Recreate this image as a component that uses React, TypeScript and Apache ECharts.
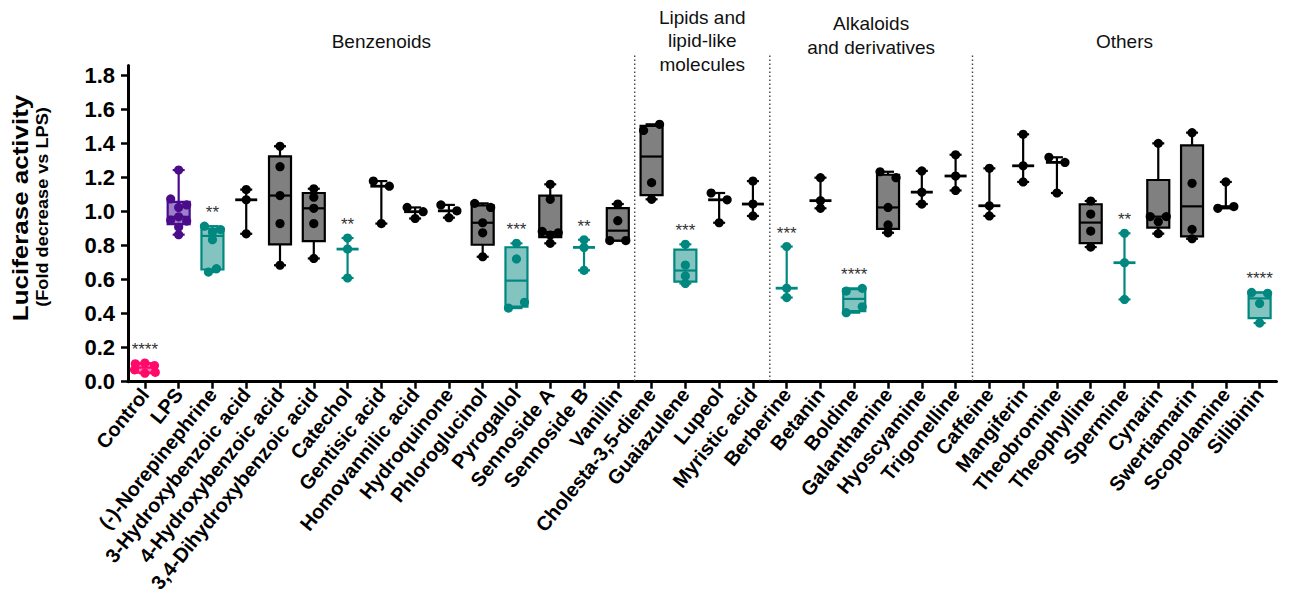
import React, { useEffect, useRef } from "react";
import * as echarts from "echarts";

// ---------------- DATA ----------------
const categories: string[] = [
  "Control", "LPS", "(-)-Norepinephrine", "3-Hydroxybenzoic acid", "4-Hydroxybenzoic acid",
  "3,4-Dihydroxybenzoic acid", "Catechol", "Gentisic acid", "Homovannilic acid", "Hydroquinone",
  "Phloroglucinol", "Pyrogallol", "Sennoside A", "Sennoside B", "Vanillin",
  "Cholesta-3,5-diene", "Guaiazulene", "Lupeol", "Myristic acid",
  "Berberine", "Betanin", "Boldine", "Galanthamine", "Hyoscyamine", "Trigonelline",
  "Caffeine", "Mangiferin", "Theobromine", "Theophylline", "Spermine", "Cynarin",
  "Swertiamarin", "Scopolamine", "Silibinin",
];

// replicate values (fold vs LPS) per compound
const replicateValues: number[][] = [
  [0.11, 0.105, 0.095, 0.07, 0.055, 0.05],
  [1.245, 1.075, 1.04, 1.025, 0.97, 0.95, 0.945, 0.91, 0.865],
  [0.915, 0.895, 0.88, 0.835, 0.665, 0.645],
  [1.13, 1.07, 0.87],
  [1.385, 1.265, 1.095, 0.93, 0.685],
  [1.135, 1.085, 1.02, 0.93, 0.725],
  [0.845, 0.78, 0.61],
  [1.18, 1.15, 0.93],
  [1.025, 1.0, 0.96],
  [1.04, 1.005, 0.965],
  [1.049, 1.025, 0.935, 0.876, 0.735],
  [0.814, 0.722, 0.467, 0.433],
  [1.161, 1.073, 0.884, 0.876, 0.863, 0.814],
  [0.835, 0.79, 0.655],
  [1.045, 0.947, 0.83, 0.83],
  [1.514, 1.478, 1.171, 1.073],
  [0.808, 0.686, 0.622, 0.578],
  [1.11, 1.07, 0.935],
  [1.18, 1.045, 0.975],
  [0.795, 0.55, 0.495],
  [1.2, 1.065, 1.02],
  [0.549, 0.533, 0.441, 0.406],
  [1.235, 1.2, 1.025, 0.922, 0.876],
  [1.24, 1.115, 1.045],
  [1.335, 1.21, 1.125],
  [1.255, 1.035, 0.975],
  [1.455, 1.27, 1.175],
  [1.32, 1.29, 1.11],
  [1.063, 0.986, 0.886, 0.792],
  [0.873, 0.7, 0.484],
  [1.402, 0.971, 0.971, 0.941, 0.871],
  [1.465, 1.167, 0.896, 0.841],
  [1.175, 1.03, 1.02],
  [0.525, 0.52, 0.46, 0.345],
];

// horizontal spread of each replicate (-1 left, 0 centre, 1 right)
const replicateSpread: number[][] = [
  [0, -1.2, 1.2, -1.3, 1.3, 0],
  [0, -1, 1, 0, 0, -1, 1, 0, 0],
  [-1, 1, 0, 0, 0.5, -0.5],
  [0, 0, 0],
  [0, 0, 0, 0, 0],
  [0, 0, 0, 0, 0],
  [0, 0, 0],
  [-1, 1, 0],
  [-1, 1, 0],
  [-1, 1, 0],
  [-1, 1, 0, 0, 0],
  [0, 0, 1, -1],
  [0, 0, -1, 1, 0, 0],
  [0, 0, 0],
  [0, 0, -1, 1],
  [1, -1, 0, 0],
  [0, 0, 0, 0],
  [-1, 1, 0],
  [0, 0, 0],
  [0, 0, 0],
  [0, 0, 0],
  [1, -1, 1, -1],
  [-1, 1, 0, 0, 0],
  [0, 0, 0],
  [0, 0, 0],
  [0, 0, 0],
  [0, 0, 0],
  [-1, 1, 0],
  [0, 0, 0, 0],
  [0, 0, 0],
  [0, -1, 1, 0, 0],
  [0, 0, 0, 0],
  [0, 1, -1],
  [-1, 1, 0, 0],
];

// colour class per compound
const colourClass: string[] = [
  "control", "lps", "hit", "ns", "ns", "ns", "hit", "ns", "ns", "ns", "ns", "hit", "ns", "hit", "ns",
  "ns", "hit", "ns", "ns",
  "hit", "ns", "hit", "ns", "ns", "ns",
  "ns", "ns", "ns", "ns", "hit", "ns", "ns", "ns", "hit",
];

// significance markers
const significance: string[] = [
  "****", "", "**", "", "", "", "**", "", "", "", "", "***", "", "**", "",
  "", "***", "", "",
  "***", "", "****", "", "", "",
  "", "", "", "", "**", "", "", "", "****",
];

const groupNames: string[] = ["Benzenoids", "Lipids and\nlipid-like\nmolecules", "Alkaloids\nand derivatives", "Others"];
const groupStart: number[] = [0, 15, 19, 25];
const groupEnd: number[] = [14, 18, 24, 33];

const yTickValues: number[] = [0, 0.2, 0.4, 0.6, 0.8, 1.0, 1.2, 1.4, 1.6, 1.8];

// ---------------- STYLE ----------------
const FONT = "Arial, 'Liberation Sans', Helvetica, sans-serif";
const palette: Record<string, { stroke: string; fill: string; point: string }> = {
  control: { stroke: "#FF0A6A", fill: "#FF7FAF", point: "#FF0A6A" },
  lps: { stroke: "#4B0C8C", fill: "#9C80C8", point: "#4B0C8C" },
  hit: { stroke: "#008780", fill: "#84C4C0", point: "#008780" },
  ns: { stroke: "#000000", fill: "#808080", point: "#000000" },
};
const headerCenterY: number[] = [41, 40.5, 35.5, 41];

function boxStats(arr: number[]) {
  const s = [...arr].sort((a, b) => a - b);
  const n = s.length;
  const q = (p: number) => {
    const pos = (n + 1) * p;
    if (pos <= 1) return s[0];
    if (pos >= n) return s[n - 1];
    const lo = Math.floor(pos);
    return s[lo - 1] + (pos - lo) * (s[lo] - s[lo - 1]);
  };
  return { min: s[0], q1: q(0.25), med: q(0.5), q3: q(0.75), max: s[n - 1] };
}

export default function App() {
  const ref = useRef<HTMLDivElement>(null);
  useEffect(() => {
    if (!ref.current) return;
    const chart = echarts.init(ref.current, undefined, { renderer: "svg" });
    const yMax = 1.86;

    const boxRender = (params: any, api: any) => {
      const i = api.value(0) as number;
      const vals = replicateValues[i];
      const st = boxStats(vals);
      const cx = api.coord([i, 0])[0];
      const Y = (v: number) => api.coord([i, v])[1];
      const c = palette[colourClass[i]];
      const hw = 11;
      const cap = 6;
      const children: any[] = [];
      const ln = (x1: number, y1: number, x2: number, y2: number, w = 2.2) => ({
        type: "line",
        shape: { x1, y1, x2, y2 },
        style: { stroke: c.stroke, lineWidth: w },
      });
      if (vals.length >= 4) {
        children.push(ln(cx, Y(st.max), cx, Y(st.q3)));
        children.push(ln(cx, Y(st.q1), cx, Y(st.min)));
        children.push(ln(cx - cap, Y(st.max), cx + cap, Y(st.max)));
        children.push(ln(cx - cap, Y(st.min), cx + cap, Y(st.min)));
        children.push({
          type: "rect",
          shape: { x: cx - hw, y: Y(st.q3), width: hw * 2, height: Y(st.q1) - Y(st.q3) },
          style: { fill: c.fill, stroke: c.stroke, lineWidth: 2.2 },
        });
        children.push(ln(cx - hw, Y(st.med), cx + hw, Y(st.med)));
      } else {
        children.push(ln(cx, Y(st.max), cx, Y(st.min)));
        children.push(ln(cx - cap, Y(st.max), cx + cap, Y(st.max)));
        children.push(ln(cx - cap, Y(st.min), cx + cap, Y(st.min)));
        children.push(ln(cx - hw, Y(st.med), cx + hw, Y(st.med), 2.8));
      }
      vals.forEach((v, k) => {
        children.push({
          type: "circle",
          shape: { cx: cx + replicateSpread[i][k] * 8, cy: Y(v), r: 4.6 },
          style: { fill: c.point },
        });
      });
      if (significance[i]) {
        children.push({
          type: "text",
          style: {
            text: significance[i],
            x: cx,
            y: Y(st.max) - 5,
            align: "center",
            verticalAlign: "bottom",
            fontSize: 17,
            fontFamily: FONT,
            fill: "#333333",
          },
        });
      }
      return { type: "group", children };
    };

    const groupRender = (params: any, api: any) => {
      const g = params.dataIndex;
      const s = groupStart[g];
      const e = groupEnd[g];
      const x0 = api.coord([s, 0])[0];
      const x1 = api.coord([e, 0])[0];
      const children: any[] = [
        {
          type: "text",
          style: {
            text: groupNames[g],
            x: (x0 + x1) / 2,
            y: headerCenterY[g],
            align: "center",
            verticalAlign: "middle",
            fontSize: 19,
            lineHeight: 23.5,
            fontFamily: FONT,
            fill: "#111111",
          },
        },
      ];
      if (g > 0) {
        const prev = api.coord([s - 1, 0])[0];
        const xs = (prev + x0) / 2;
        const yBottom = api.coord([s, 0])[1];
        const yTop = api.coord([s, yMax])[1] - 10;
        children.push({
          type: "line",
          shape: { x1: xs, y1: yTop, x2: xs, y2: yBottom },
          style: { stroke: "#444444", lineWidth: 1.4, lineDash: [1.4, 2.6] },
        });
      }
      return { type: "group", children };
    };

    chart.setOption({
      animation: false,
      backgroundColor: "#ffffff",
      grid: {
        left: 128,
        right: 19.5,
        top: 381.7 - yMax * 170,
        bottom: 596 - 381.7,
        containLabel: false,
        outerBoundsMode: "none",
      },
      xAxis: {
        type: "category",
        data: categories,
        boundaryGap: true,
        axisLine: { show: true, lineStyle: { color: "#000", width: 3 } },
        axisTick: { show: true, alignWithLabel: true, length: 7, lineStyle: { color: "#000", width: 2.5 } },
        axisLabel: {
          interval: 0,
          rotate: 51,
          margin: 9,
          color: "#000",
          fontSize: 20,
          fontWeight: "bold",
          fontFamily: FONT,
        },
        splitLine: { show: false },
      },
      yAxis: {
        type: "value",
        min: 0,
        max: yMax,
        axisLine: { show: true, lineStyle: { color: "#000", width: 3 } },
        axisTick: {
          show: true,
          length: 7,
          lineStyle: { color: "#000", width: 2.5 },
          customValues: yTickValues,
        },
        axisLabel: {
          color: "#000",
          fontSize: 22,
          fontWeight: "bold",
          fontFamily: FONT,
          margin: 13,
          customValues: yTickValues,
          formatter: (v: number) => v.toFixed(1),
        },
        splitLine: { show: false },
      },
      graphic: [
        {
          type: "text",
          x: 20,
          y: 208,
          rotation: Math.PI / 2,
          scaleX: 1.18,
          style: {
            text: "Luciferase activity",
            align: "center",
            verticalAlign: "middle",
            fontSize: 22,
            fontWeight: "bold",
            fontFamily: FONT,
            fill: "#000",
          },
        },
        {
          type: "text",
          x: 42,
          y: 207,
          rotation: Math.PI / 2,
          scaleX: 1.1,
          style: {
            text: "(Fold decrease vs LPS)",
            align: "center",
            verticalAlign: "middle",
            fontSize: 16.5,
            fontWeight: "bold",
            fontFamily: FONT,
            fill: "#000",
          },
        },
      ],
      series: [
        {
          type: "custom",
          name: "groups",
          clip: false,
          silent: true,
          data: groupNames.map((_, g) => [groupStart[g], 0]),
          encode: { x: 0, y: 1 },
          renderItem: groupRender,
          z: 1,
        },
        {
          type: "custom",
          name: "boxes",
          clip: false,
          data: categories.map((_, i) => [i, Math.max(...replicateValues[i])]),
          encode: { x: 0, y: 1 },
          renderItem: boxRender,
          z: 2,
        },
      ],
    });
    return () => chart.dispose();
  }, []);

  return (
    <div
      ref={ref}
      style={{ position: "fixed", left: 0, top: 0, width: 1296, height: 596, background: "#fff" }}
    />
  );
}
